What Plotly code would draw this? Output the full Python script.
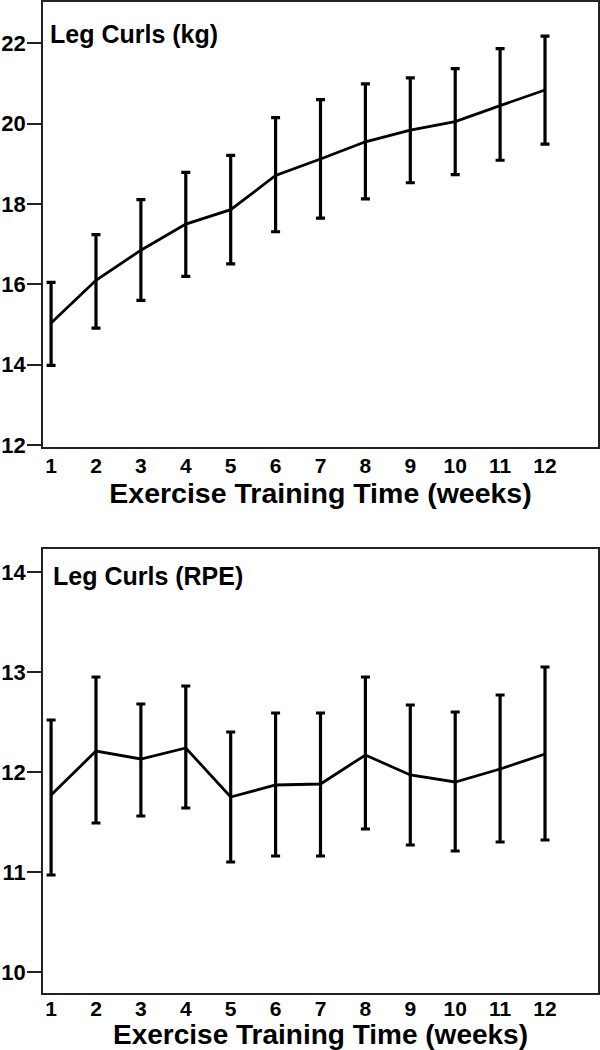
import plotly.graph_objects as go

weeks = [1, 2, 3, 4, 5, 6, 7, 8, 9, 10, 11, 12]
x_ticklabels = [str(w) for w in weeks]

kg_mean = [15.04, 16.10, 16.85, 17.50, 17.86, 18.71, 19.12, 19.55, 19.84, 20.05, 20.45, 20.84]
kg_upper = [16.05, 17.24, 18.11, 18.79, 19.21, 20.15, 20.60, 20.99, 21.14, 21.37, 21.87, 22.18]
kg_lower = [13.98, 14.91, 15.60, 16.20, 16.51, 17.31, 17.65, 18.13, 18.53, 18.73, 19.09, 19.49]
kg_yticks = [12, 14, 16, 18, 20, 22]

rpe_mean = [11.77, 12.21, 12.13, 12.24, 11.75, 11.87, 11.88, 12.17, 11.97, 11.90, 12.03, 12.18]
rpe_upper = [12.52, 12.95, 12.68, 12.86, 12.40, 12.59, 12.59, 12.95, 12.67, 12.60, 12.77, 13.05]
rpe_lower = [10.97, 11.49, 11.56, 11.64, 11.10, 11.16, 11.16, 11.43, 11.27, 11.21, 11.30, 11.32]
rpe_yticks = [10, 11, 12, 13, 14]

panel_titles = ["Leg Curls (kg)", "Leg Curls (RPE)"]
x_title = "Exercise Training Time (weeks)"

W, H = 600, 1050
FONT = "Liberation Sans, Arial, sans-serif"

fig = go.Figure()

def add_series(mean, upper, lower, xa, ya):
    fig.add_trace(go.Scatter(
        x=weeks, y=mean, mode="lines",
        line=dict(color="black", width=2.8),
        error_y=dict(type="data", symmetric=False,
                     array=[u - m for u, m in zip(upper, mean)],
                     arrayminus=[m - l for m, l in zip(mean, lower)],
                     color="black", thickness=3.2, width=4.5),
        xaxis=xa, yaxis=ya, showlegend=False, hoverinfo="skip"))

add_series(kg_mean, kg_upper, kg_lower, "x", "y")
add_series(rpe_mean, rpe_upper, rpe_lower, "x2", "y2")

xdom = [43 / W, 598 / W]
top_dom = [1 - 447 / H, 1 - 2 / H]
bot_dom = [1 - 993 / H, 1 - 549 / H]

def x_axis(label_standoff, title_standoff, tsize):
    return dict(
        range=[0.82, 13.18], tickvals=weeks,
        ticktext=["<b>%s</b>" % t for t in x_ticklabels], ticks="",
        showline=True, linecolor="#222", linewidth=1.8, mirror=True,
        showgrid=False, zeroline=False, automargin=False,
        ticklabelstandoff=label_standoff,
        tickfont=dict(family=FONT, size=21, color="black"),
        title=dict(text="<b>" + x_title + "</b>", standoff=title_standoff,
                   font=dict(family=FONT, size=tsize, color="black")),
    )

common_y = dict(
    ticks="outside", ticklen=14, tickwidth=1.8, tickcolor="#222",
    showline=True, linecolor="#222", linewidth=1.8, mirror=True,
    showgrid=False, zeroline=False, automargin=False, ticklabelstandoff=-3,
    tickfont=dict(family=FONT, size=22, color="black"),
)

fig.update_layout(
    width=W, height=H,
    margin=dict(l=0, r=0, t=0, b=0, autoexpand=False),
    paper_bgcolor="white", plot_bgcolor="white",
    font=dict(family=FONT, color="black"),
    xaxis=dict(domain=xdom, anchor="y", **x_axis(-1, 1, 28.5)),
    yaxis=dict(domain=top_dom, anchor="x", range=[11.95, 23.03],
               tickvals=kg_yticks, ticktext=["<b>%d</b>" % v for v in kg_yticks], **common_y),
    xaxis2=dict(domain=xdom, anchor="y2", **x_axis(-4, 1, 28)),
    yaxis2=dict(domain=bot_dom, anchor="x2", range=[9.79, 14.23],
                tickvals=rpe_yticks, ticktext=["<b>%d</b>" % v for v in rpe_yticks], **common_y),
)

fig.add_annotation(x=48 / W, y=1 - 34 / H, xref="paper", yref="paper",
                   xanchor="left", yanchor="middle", showarrow=False,
                   text="<b>" + panel_titles[0] + "</b>",
                   font=dict(family=FONT, size=25, color="black"))
fig.add_annotation(x=51 / W, y=1 - 576 / H, xref="paper", yref="paper",
                   xanchor="left", yanchor="middle", showarrow=False,
                   text="<b>" + panel_titles[1] + "</b>",
                   font=dict(family=FONT, size=25, color="black"))

post = (
    "document.documentElement.style.margin='0';"
    "document.body.style.margin='0';document.body.style.padding='0';"
    "document.body.style.overflow='hidden';"
    "var gd=document.getElementById('{plot_id}');"
    "Plotly.relayout(gd,{width:600,height:1050});"
)

fig.write_html("out.html", post_script=post,
               config={"displayModeBar": False, "staticPlot": True})
